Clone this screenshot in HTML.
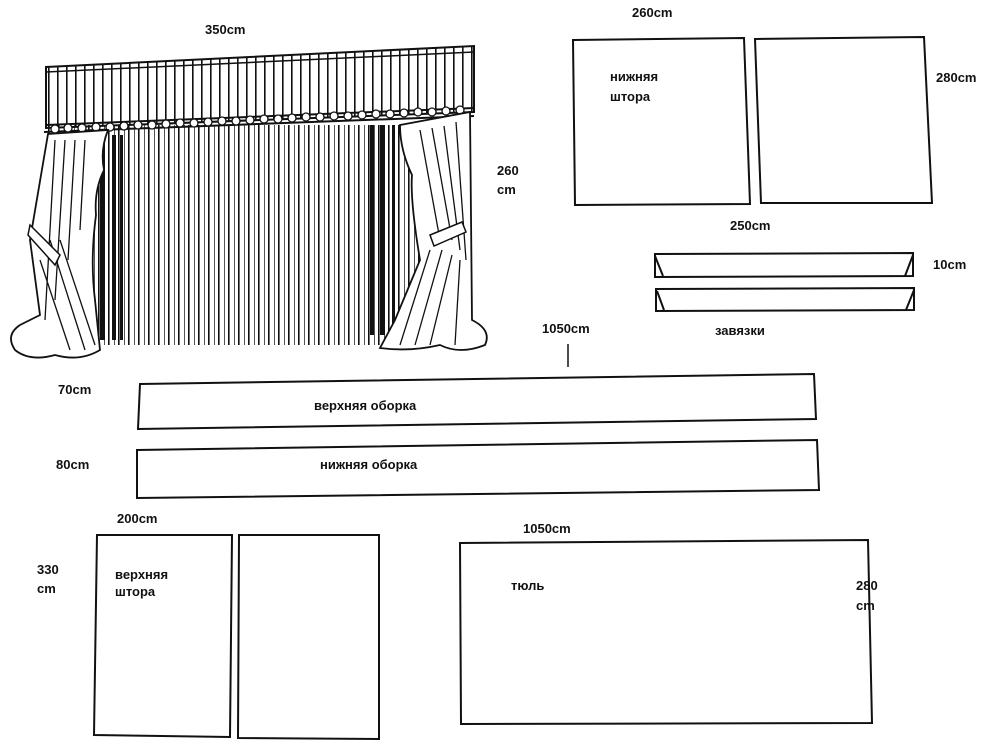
<!DOCTYPE html>
<html><head><meta charset="utf-8"><style>
html,body{margin:0;padding:0;background:#fff}
svg{display:block}
text{font-family:"Liberation Sans",sans-serif;font-weight:bold;font-size:13px;fill:#111}
</style></head><body>
<svg width="1000" height="753" viewBox="0 0 1000 753" xmlns="http://www.w3.org/2000/svg">
<defs>
<pattern id="st" x="48" y="0" width="10" height="800" patternUnits="userSpaceOnUse">
<rect x="0" y="0" width="1.6" height="800" fill="#111"/>
<rect x="6" y="0" width="1" height="800" fill="#555"/>
</pattern>
<pattern id="st2" x="48" y="0" width="9" height="800" patternUnits="userSpaceOnUse">
<rect x="0" y="0" width="1.6" height="800" fill="#111"/>
</pattern>
</defs>
<g stroke="#111" fill="none" stroke-width="2">
<rect x="48" y="125" width="420" height="220" fill="url(#st)" stroke="none"/>
<polygon points="46,67 474,46 474,112 46,128" fill="url(#st2)" stroke="#111"/>
<line x1="46" y1="72" x2="474" y2="52" stroke-width="1.5"/>
<path d="M46,125 L474,108" stroke-width="2"/>
<path d="M44,132 L474,116" stroke-width="2"/>
<g fill="#fff" stroke-width="1.3">
<circle cx="55" cy="129" r="4"/><circle cx="68" cy="128" r="4"/><circle cx="82" cy="128" r="4"/><circle cx="96" cy="127" r="4"/><circle cx="110" cy="127" r="4"/><circle cx="124" cy="126" r="4"/><circle cx="138" cy="125" r="4"/><circle cx="152" cy="125" r="4"/><circle cx="166" cy="124" r="4"/><circle cx="180" cy="123" r="4"/><circle cx="194" cy="123" r="4"/><circle cx="208" cy="122" r="4"/><circle cx="222" cy="121" r="4"/><circle cx="236" cy="121" r="4"/><circle cx="250" cy="120" r="4"/><circle cx="264" cy="119" r="4"/><circle cx="278" cy="119" r="4"/><circle cx="292" cy="118" r="4"/><circle cx="306" cy="117" r="4"/><circle cx="320" cy="117" r="4"/><circle cx="334" cy="116" r="4"/><circle cx="348" cy="116" r="4"/><circle cx="362" cy="115" r="4"/><circle cx="376" cy="114" r="4"/><circle cx="390" cy="114" r="4"/><circle cx="404" cy="113" r="4"/><circle cx="418" cy="112" r="4"/><circle cx="432" cy="112" r="4"/><circle cx="446" cy="111" r="4"/><circle cx="460" cy="110" r="4"/>
</g>
<g fill="#111" stroke="none">
<rect x="100" y="135" width="5" height="205"/><rect x="112" y="135" width="4" height="205"/><rect x="120" y="135" width="3" height="205"/>
<rect x="370" y="125" width="4" height="210"/><rect x="380" y="125" width="5" height="210"/><rect x="392" y="125" width="3" height="210"/>
</g>
<path d="M48,134 L108,130 Q100,150 104,170 Q94,190 96,215 Q90,260 95,300 L100,350 Q80,362 55,355 Q30,362 15,350 Q5,335 20,325 L40,315 L30,240 Z" fill="#fff" stroke-width="1.8"/>
<path d="M55,140 L45,320 M65,140 L55,300 M75,140 L68,260 M85,140 L80,230 M60,240 L95,345 M50,240 L85,350 M40,260 L70,350" stroke-width="1.3"/>
<path d="M30,225 L60,255 L55,265 L28,235 Z" fill="#fff" stroke-width="1.5"/>
<path d="M400,125 L470,112 L472,320 Q492,330 485,345 Q460,355 440,345 Q410,352 380,348 L395,320 L420,260 Q410,200 412,175 Q400,150 400,125 Z" fill="#fff" stroke-width="1.8"/>
<path d="M420,130 L440,240 M432,128 L452,240 M444,126 L460,250 M456,122 L466,260 M430,250 L400,345 M442,250 L415,345 M452,255 L430,345 M460,260 L455,345" stroke-width="1.3"/>
<path d="M430,235 L462,222 L466,232 L434,246 Z" fill="#fff" stroke-width="1.5"/>
<path d="M573,40 L744,38 L750,204 L575,205 Z"/>
<path d="M755,39 L924,37 L932,203 L761,203 Z"/>
<path d="M655,254 L913,253 L913,276 L655,277 Z"/>
<path d="M655,256 L663,276 M913,255 L905,276"/>
<path d="M656,289 L914,288 L914,310 L656,311 Z"/>
<path d="M657,291 L664,310 M914,290 L906,310"/>
<line x1="568" y1="344" x2="568" y2="367" stroke-width="1.5"/>
<path d="M140,384 L814,374 L816,419 L138,429 Z"/>
<path d="M137,450 L817,440 L819,490 L137,498 Z"/>
<path d="M97,535 L232,535 L230,737 L94,735 Z"/>
<path d="M239,535 L379,535 L379,739 L238,738 Z"/>
<path d="M460,543 L868,540 L872,723 L461,724 Z"/>
</g>
<text x="205" y="34">350cm</text>
<text x="632" y="17">260cm</text>
<text x="936" y="82">280cm</text>
<text x="610" y="81">нижняя</text>
<text x="610" y="101">штора</text>
<text x="497" y="175">260</text>
<text x="497" y="194">cm</text>
<text x="730" y="230">250cm</text>
<text x="933" y="269">10cm</text>
<text x="715" y="335">завязки</text>
<text x="542" y="333">1050cm</text>
<text x="58" y="394">70cm</text>
<text x="314" y="410">верхняя оборка</text>
<text x="56" y="469">80cm</text>
<text x="320" y="469">нижняя оборка</text>
<text x="117" y="523">200cm</text>
<text x="37" y="574">330</text>
<text x="37" y="593">cm</text>
<text x="115" y="579">верхняя</text>
<text x="115" y="596">штора</text>
<text x="523" y="533">1050cm</text>
<text x="511" y="590">тюль</text>
<text x="856" y="590">280</text>
<text x="856" y="610">cm</text>
</svg>
</body></html>
